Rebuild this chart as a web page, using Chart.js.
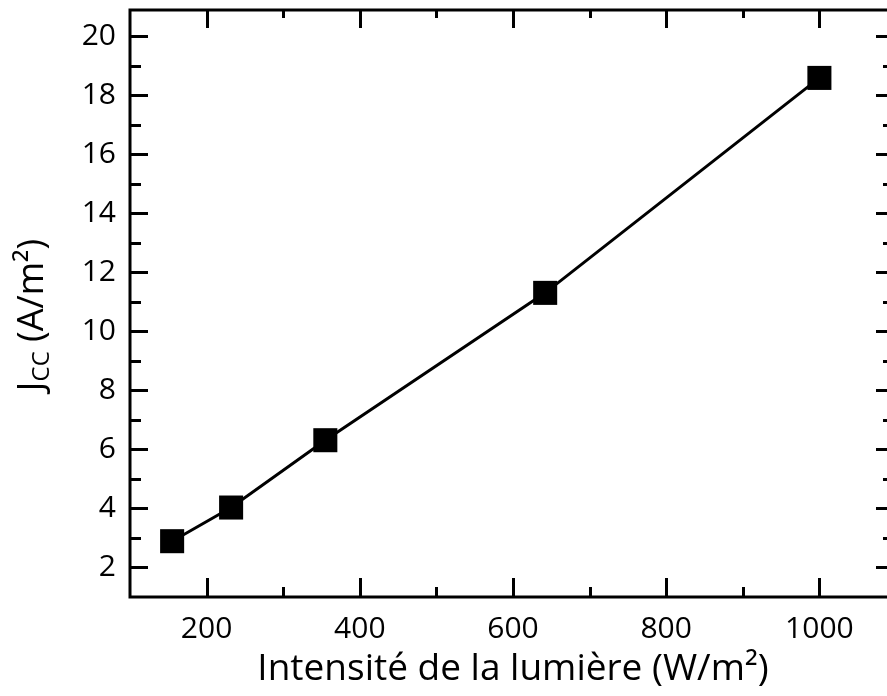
<!DOCTYPE html>
<html>
<head>
<meta charset="utf-8">
<script src="https://cdn.jsdelivr.net/npm/chart.js@4"></script>
<style>
  html, body { margin: 0; padding: 0; overflow: hidden; background: #fff; }
  #wrap { width: 905px; height: 696px; position: relative; }
</style>
</head>
<body>
<div id="wrap"><canvas id="jccChart"></canvas></div>
<script>
// values
const intensity = [155, 232, 355, 642, 1000];     // W/m²
const jcc = [2.89, 4.03, 6.31, 11.30, 18.58];      // A/m²

const xTicks = [200, 400, 600, 800, 1000];
const xMinor = [300, 500, 700, 900];
const yTicks = [2, 4, 6, 8, 10, 12, 14, 16, 18, 20];
const yMinor = [3, 5, 7, 9, 11, 13, 15, 17, 19];

const FONT = "'Open Sans', 'DejaVu Sans', sans-serif";

/* ---------------------------------------------------
    frame, inward ticks and the y title
---------------------------------------------------- */
const frameTicks = {
  id: "frameTicks",
  afterDraw(chart) {
    const { ctx, chartArea: a, scales: { x, y } } = chart;
    ctx.save();
    ctx.strokeStyle = "#000";
    ctx.lineWidth = 3;

    const line = (x1, y1, x2, y2) => {
      ctx.beginPath();
      ctx.moveTo(x1, y1);
      ctx.lineTo(x2, y2);
      ctx.stroke();
    };

    xTicks.forEach(v => {
      const px = Math.round(x.getPixelForValue(v)) + 0.5;
      line(px, a.bottom, px, a.bottom - 19);
      line(px, a.top, px, a.top + 18);
    });
    xMinor.forEach(v => {
      const px = Math.round(x.getPixelForValue(v)) + 0.5;
      line(px, a.bottom, px, a.bottom - 10);
      line(px, a.top, px, a.top + 8);
    });
    yTicks.forEach(v => {
      const py = Math.round(y.getPixelForValue(v)) + 0.5;
      line(a.left, py, a.left + 18, py);
      line(a.right, py, a.right - 20, py);
    });
    yMinor.forEach(v => {
      const py = Math.round(y.getPixelForValue(v)) + 0.5;
      line(a.left, py, a.left + 11, py);
      line(a.right, py, a.right - 13, py);
    });

    ctx.strokeRect(a.left, a.top, a.right - a.left, a.bottom - a.top);

    // J_CC (A/m²), rotated
    const parts = [
      { t: "J", f: `36px ${FONT}`, dy: 0 },
      { t: "CC", f: `24px ${FONT}`, dy: 6 },
      { t: " (A/m²)", f: `36px ${FONT}`, dy: 0 }
    ];
    let total = 0;
    parts.forEach(p => { ctx.font = p.f; p.w = ctx.measureText(p.t).width; total += p.w; });
    ctx.translate(43, 315);
    ctx.rotate(-Math.PI / 2);
    ctx.fillStyle = "#000";
    ctx.textBaseline = "alphabetic";
    ctx.textAlign = "left";
    let cx = -total / 2;
    parts.forEach(p => {
      ctx.font = p.f;
      ctx.fillText(p.t, cx, p.dy);
      cx += p.w;
    });
    ctx.restore();
  }
};

const ctx = document.getElementById("jccChart").getContext("2d");

new Chart(ctx, {
  type: "line",
  data: {
    datasets: [{
      data: intensity.map((v, i) => ({ x: v, y: jcc[i] })),
      borderColor: "#000",
      backgroundColor: "#000",
      borderWidth: 3,
      tension: 0,
      pointStyle: "rect",
      pointRadius: 17,
      pointHoverRadius: 17,
      pointBorderWidth: 0,
      pointBackgroundColor: "#000"
    }]
  },
  options: {
    responsive: true,
    maintainAspectRatio: false,
    animation: false,
    layout: { autoPadding: false, padding: { top: 10, right: 9, bottom: 0, left: 0 } },
    plugins: {
      legend: { display: false },
      tooltip: { enabled: false }
    },
    scales: {
      x: {
        type: "linear",
        min: 100,
        max: 1100,
        afterBuildTicks: s => { s.ticks = xTicks.map(v => ({ value: v })); },
        afterFit: s => { s.height = 99; s.paddingLeft = 0; s.paddingRight = 0; },
        grid: { display: false, drawTicks: false },
        border: { display: false },
        ticks: {
          color: "#000", padding: 14, font: { family: FONT, size: 30 },
          callback: v => String(v)
        },
        title: {
          display: true,
          text: "Intensité de la lumière (W/m²)",
          color: "#000",
          font: { family: FONT, size: 37 },
          padding: { top: 0, bottom: 4 }
        }
      },
      y: {
        min: 1,
        max: 20.88,
        afterBuildTicks: s => { s.ticks = yTicks.map(v => ({ value: v })); },
        afterFit: s => { s.width = 130; s.paddingTop = 0; s.paddingBottom = 0; },
        grid: { display: false, drawTicks: false },
        border: { display: false },
        ticks: {
          color: "#000", padding: 14, font: { family: FONT, size: 30 },
          callback: v => String(v)
        }
      }
    }
  },
  plugins: [frameTicks]
});
</script>
</body>
</html>
